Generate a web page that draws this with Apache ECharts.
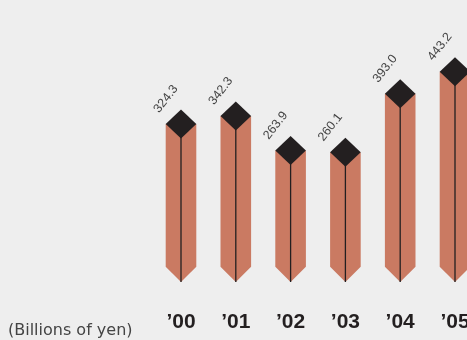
<!DOCTYPE html>
<html>
<head>
<meta charset="utf-8">
<script src="https://cdn.jsdelivr.net/npm/echarts@6/dist/echarts.min.js"></script>
<style>
html,body{margin:0;padding:0;background:#eeeeee;}
#chart{width:467px;height:340px;}
</style>
</head>
<body>
<div id="chart"></div>
<script>
var categories = ['\u201900', '\u201901', '\u201902', '\u201903', '\u201904', '\u201905'];
var values = [324.3, 342.3, 263.9, 260.1, 393.0, 443.2];
var valueLabels = ['324.3', '342.3', '263.9', '260.1', '393.0', '443.2'];
var unitLabel = '(Billions of yen)';

var chart = echarts.init(document.getElementById('chart'), null, {renderer: 'canvas'});
var BAR = '#ca7a62', DARK = '#231f20';

chart.setOption({
  backgroundColor: '#eeeeee',
  animation: false,
  grid: {left: 153.6, width: 328.8, top: 46.7, height: 220, containLabel: false, outerBoundsMode: 'none'},
  xAxis: {
    type: 'category',
    data: categories,
    axisLine: {show: false},
    axisTick: {show: false},
    axisLabel: {margin: 45, fontSize: 21, fontWeight: 'bold', color: DARK, fontFamily: 'Liberation Sans, Arial, sans-serif'}
  },
  yAxis: {type: 'value', min: 0, max: 500, show: false},
  graphic: [{
    type: 'text', left: 8, top: 323,
    style: {text: unitLabel, fontSize: 16, fill: '#444', fontFamily: 'DejaVu Sans, sans-serif'}
  }],
  series: [{
    type: 'custom',
    clip: false,
    data: values.map(function (v, i) { return [i, v]; }),
    renderItem: function (params, api) {
      var i = api.value(0), v = api.value(1);
      var top = api.coord([i, v]);
      var base = api.coord([i, 0]);
      var cx = top[0], ty = top[1], by = base[1];
      var hw = 15.3, hh = 14.5;
      return {
        type: 'group',
        children: [
          {type: 'polygon', shape: {points: [[cx - hw, ty], [cx + hw, ty], [cx + hw, by], [cx, by + hw], [cx - hw, by]]}, style: {fill: BAR}},
          {type: 'line', shape: {x1: cx, y1: ty, x2: cx, y2: by + hw}, style: {stroke: DARK, lineWidth: 1.3}},
          {type: 'polygon', shape: {points: [[cx, ty - hh], [cx + hw, ty], [cx, ty + hh], [cx - hw, ty]]}, style: {fill: DARK}},
          {type: 'text', x: cx - 15, y: ty - 25, rotation: 52 * Math.PI / 180,
           style: {text: valueLabels[i], fontSize: 12.5, fill: '#444', align: 'center', verticalAlign: 'middle', fontFamily: 'Liberation Sans, Arial, sans-serif'}}
        ]
      };
    }
  }]
});
</script>
</body>
</html>
